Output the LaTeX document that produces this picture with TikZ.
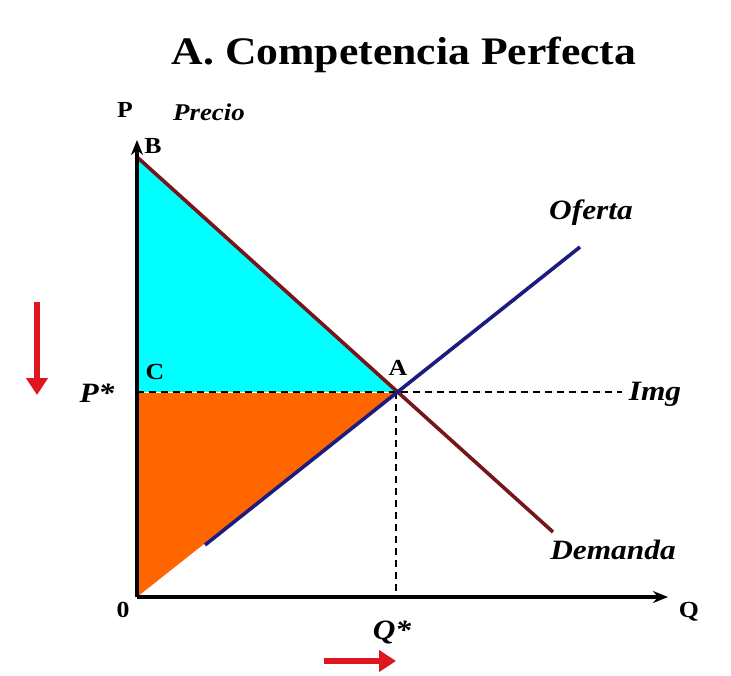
\documentclass[tikz,border=0pt]{standalone}
\usepackage{fontspec}
\setmainfont[FakeStretch=1.12]{Liberation Serif}
\usetikzlibrary{arrows.meta}
\definecolor{surplusOrange}{RGB}{255,102,0}
\definecolor{surplusCyan}{RGB}{0,255,255}
\definecolor{demandRed}{RGB}{118,22,26}
\definecolor{supplyBlue}{RGB}{28,28,128}
\definecolor{moveRed}{RGB}{222,22,32}
\tikzset{
  axis/.style={line width=3.4pt,-{Stealth[length=15pt,width=12pt]}},
  demand/.style={line width=3.6pt,draw=demandRed},
  supply/.style={line width=3.6pt,draw=supplyBlue},
  guide/.style={line width=2.4pt,dash pattern=on 7pt off 5pt,preaction={draw=white,solid}},
  moveArrow/.style={line width=5.5pt,draw=moveRed,-{Triangle[length=17pt,width=21pt]}},
  ptlbl/.style={font=\fontsize{23}{25}\selectfont\bfseries,inner sep=0pt},
  curvelbl/.style={font=\fontsize{28}{30}\selectfont\bfseries\itshape,inner sep=0pt},
  ttl/.style={font=\fontsize{39}{42}\selectfont\bfseries,inner sep=0pt}
}
\begin{document}
\begin{tikzpicture}[x=1pt,y=-1pt]
  \useasboundingbox (0,0) rectangle (731,675);
  \coordinate (O) at (137,597);
  \coordinate (B) at (137,157);
  \coordinate (C) at (137,392);
  \coordinate (A) at (396,392);
  \coordinate (Qs) at (396,597);
  \coordinate (dEnd) at (553,532);
  \coordinate (sStart) at (205,545);
  \coordinate (sEnd) at (580,247);
  \coordinate (imgEnd) at (622,392);
  \coordinate (yTop) at (137,140);
  \coordinate (xEnd) at (668,597);
  \coordinate (pUp) at (37,302);
  \coordinate (pDown) at (37,395);
  \coordinate (qLeft) at (324,661);
  \coordinate (qRight) at (396,661);
  % surplus areas
  \fill[surplusCyan] (B) -- (A) -- (C) -- cycle;
  \fill[surplusOrange] (O) -- (A) -- (C) -- cycle;
  \draw[guide] (C) -- (imgEnd);
  \draw[guide] (A) -- (Qs);
  \draw[demand] (B) -- (dEnd);
  \draw[supply] (sStart) -- (sEnd);
  \draw[axis] (O) -- (yTop);
  \draw[axis] (O) -- (xEnd);
  \draw[moveArrow] (pUp) -- (pDown);
  \draw[moveArrow] (qLeft) -- (qRight);
  % labels
  \node[ttl] (title) at (404,55) {A. Competencia Perfecta};
  \node[ptlbl] (pAxis) at (125,110) {P};
  \node[curvelbl,font=\fontsize{24}{26}\selectfont\bfseries\itshape] (precio) at (209,112) {Precio};
  \node[ptlbl] (bLbl) at (153,146) {B};
  \node[ptlbl] (cLbl) at (155,372) {C};
  \node[ptlbl] (aLbl) at (398,368) {A};
  \node[curvelbl] (pStar) at (97,393) {P*};
  \node[curvelbl] (img) at (655,394) {Img};
  \node[curvelbl] (oferta) at (591,213) {Oferta};
  \node[curvelbl] (demanda) at (613,550) {Demanda};
  \node[ptlbl] (zero) at (123,610) {0};
  \node[ptlbl] (qAxis) at (689,612) {Q};
  \node[curvelbl] (qStar) at (392,632) {Q*};
\end{tikzpicture}
\end{document}
